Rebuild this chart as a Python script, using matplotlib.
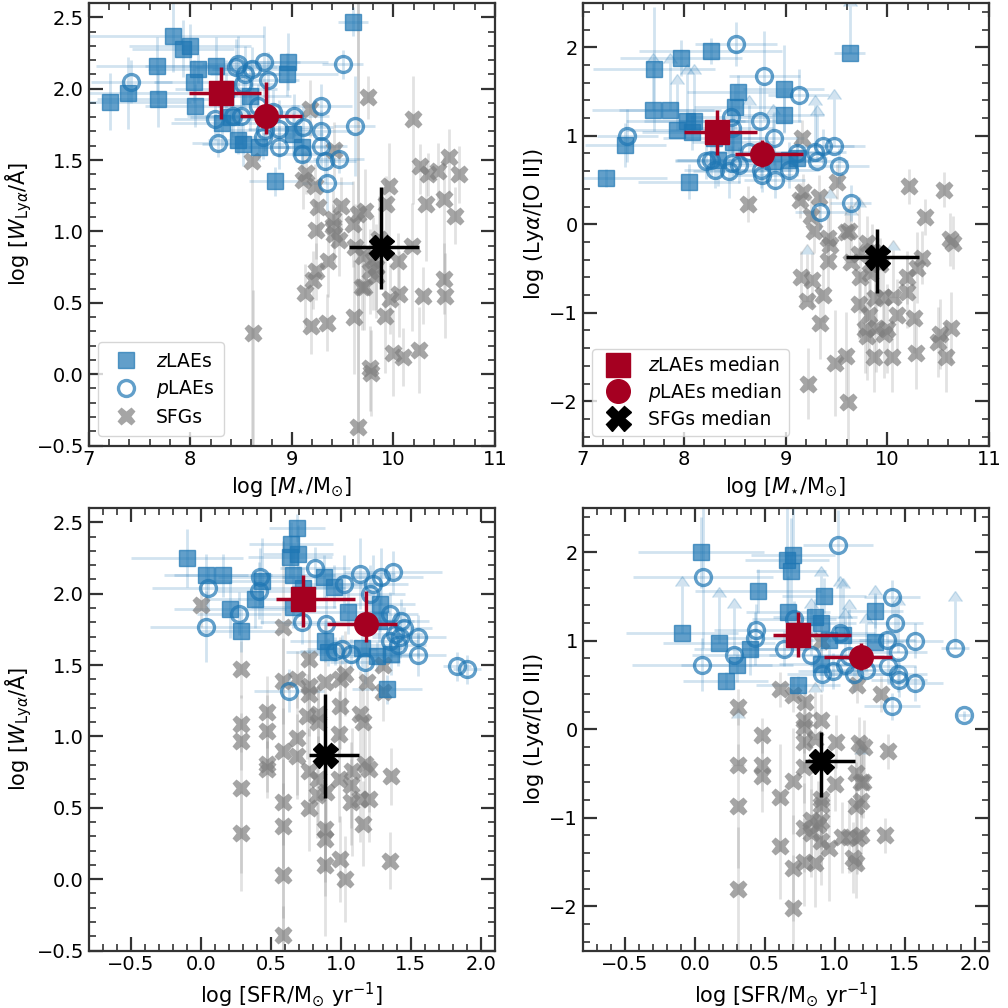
import matplotlib
matplotlib.use("Agg")
import matplotlib.pyplot as plt
from matplotlib.ticker import MultipleLocator
from matplotlib.lines import Line2D

# ---------------- DATA ----------------
# Top-left: log W_Lya vs log M*
tl_z_x = [9.60, 7.83, 7.93, 8.00, 7.67, 8.08, 8.25, 8.96, 8.95, 8.04, 7.21, 7.39, 7.68, 8.05, 8.59, 8.31, 8.47, 8.52, 8.68, 9.01, 9.10, 8.83, 8.40, 8.35]
tl_z_y = [2.47, 2.37, 2.28, 2.30, 2.16, 2.14, 2.16, 2.19, 2.10, 2.05, 1.91, 1.97, 1.93, 1.88, 1.95, 1.76, 1.64, 1.61, 1.59, 1.68, 1.59, 1.35, 1.80, 2.00]
tl_z_xe = [0.15, 0.90, 0.50, 0.60, 0.60, 0.50, 0.70, 0.40, 0.50, 0.40, 0.80, 0.70, 0.60, 0.50, 0.40, 0.50, 0.30, 0.40, 0.30, 0.30, 0.30, 0.25, 0.40, 0.50]
tl_z_ye = [0.10, 0.25, 0.20, 0.15, 0.20, 0.10, 0.20, 0.20, 0.15, 0.15, 0.20, 0.25, 0.20, 0.15, 0.25, 0.20, 0.10, 0.15, 0.10, 0.15, 0.10, 0.10, 0.15, 0.20]

tl_p_x = [7.42, 8.45, 8.73, 8.77, 8.61, 8.54, 8.52, 9.50, 8.24, 8.42, 8.50, 8.67, 8.81, 9.02, 9.29, 9.11, 8.87, 8.74, 8.72, 9.29, 9.62, 8.27, 8.87, 9.29, 9.10, 9.33, 9.46, 9.35, 8.47]
tl_p_y = [2.05, 2.15, 2.19, 2.06, 2.14, 2.10, 2.03, 2.17, 1.79, 1.81, 1.81, 1.88, 1.84, 1.81, 1.88, 1.73, 1.72, 1.71, 1.66, 1.70, 1.74, 1.62, 1.59, 1.60, 1.54, 1.49, 1.51, 1.34, 2.17]
tl_p_xe = [0.40, 0.40, 0.35, 0.30, 0.40, 0.35, 0.30, 0.20, 0.40, 0.45, 0.35, 0.40, 0.30, 0.35, 0.30, 0.30, 0.30, 0.35, 0.30, 0.30, 0.20, 0.25, 0.30, 0.25, 0.30, 0.30, 0.25, 0.25, 0.35]
tl_p_ye = [0.15, 0.20, 0.25, 0.20, 0.15, 0.20, 0.15, 0.10, 0.15, 0.15, 0.20, 0.15, 0.15, 0.15, 0.15, 0.15, 0.20, 0.15, 0.15, 0.15, 0.35, 0.10, 0.15, 0.15, 0.10, 0.15, 0.10, 0.20, 0.20]

tl_s_x = [9.75, 10.19, 8.61, 9.18, 9.42, 9.14, 9.11, 9.23, 10.26, 10.34, 10.44, 10.55, 10.65, 9.96, 9.93, 10.32, 10.50, 10.61, 9.26, 9.48, 9.65, 9.72, 9.41, 9.41, 9.24, 9.42, 9.46, 9.60, 9.62, 9.70, 9.80, 9.83, 9.83, 10.05, 10.18, 9.36, 9.24, 9.21, 9.13, 9.69, 9.71, 9.97, 10.06, 10.29, 10.50, 10.51, 9.92, 9.61, 9.35, 9.19, 8.62, 10.00, 10.09, 10.25, 9.77, 9.78, 9.65, 9.77, 9.86]
tl_s_y = [1.94, 1.79, 1.49, 1.86, 1.57, 1.41, 1.36, 1.32, 1.46, 1.40, 1.42, 1.52, 1.40, 1.32, 1.19, 1.19, 1.23, 1.11, 1.17, 1.18, 1.12, 1.14, 1.09, 1.04, 1.01, 0.98, 0.94, 1.05, 0.89, 0.83, 0.80, 0.75, 0.69, 0.79, 0.90, 0.79, 0.72, 0.66, 0.57, 0.61, 0.61, 0.53, 0.56, 0.55, 0.67, 0.55, 0.41, 0.40, 0.36, 0.34, 0.29, 0.15, 0.12, 0.17, 0.04, 0.01, -0.37, 0.72, 0.95]
tl_s_lo = [0.15, 0.60, 2.00, 0.20, 0.20, 0.15, 0.20, 0.15, 0.20, 0.15, 0.20, 0.25, 0.20, 0.50, 0.20, 0.40, 0.60, 0.20, 0.20, 0.25, 1.60, 0.30, 0.20, 0.15, 0.20, 0.20, 0.25, 0.30, 0.30, 0.25, 0.35, 0.30, 0.30, 0.20, 0.60, 0.25, 0.20, 0.20, 0.25, 0.30, 0.30, 0.25, 0.30, 0.20, 0.25, 0.30, 0.40, 0.40, 0.20, 0.20, 0.80, 0.30, 0.20, 0.30, 0.30, 0.30, 0.20, 0.30, 0.30]
tl_s_hi = [0.15, 0.30, 0.05, 0.20, 0.20, 0.15, 0.20, 0.15, 0.15, 0.15, 0.20, 0.20, 0.20, 0.30, 0.20, 0.30, 0.30, 0.20, 0.20, 0.20, 1.50, 0.30, 0.20, 0.15, 0.20, 0.20, 0.25, 0.30, 0.30, 0.25, 0.30, 0.30, 0.30, 0.20, 0.30, 0.25, 0.20, 0.20, 0.20, 0.30, 0.30, 0.25, 0.30, 0.20, 0.25, 0.30, 0.40, 0.40, 0.20, 0.20, 0.30, 0.30, 0.20, 0.30, 0.30, 0.30, 3.00, 0.30, 0.30]

# Top-right: log(Lya/[OII]) vs log M*
tr_z_x = [9.63, 8.26, 7.97, 7.70, 8.53, 8.98, 8.50, 7.69, 7.86, 8.98, 8.03, 8.10, 7.93, 8.08, 7.42, 7.23, 8.05, 8.29, 8.48, 8.33, 8.87, 9.03, 9.11]
tr_z_y = [1.94, 1.96, 1.88, 1.75, 1.49, 1.53, 1.33, 1.29, 1.29, 1.24, 1.17, 1.17, 1.06, 1.04, 0.90, 0.52, 0.48, 0.97, 0.93, 0.73, 0.72, 0.73, 0.75]
tr_z_xe = [0.15, 0.70, 0.60, 0.60, 0.50, 0.40, 0.40, 0.60, 0.50, 0.40, 0.60, 0.50, 0.50, 0.50, 0.40, 0.60, 0.50, 0.50, 0.40, 0.40, 0.40, 0.30, 0.30]
tr_z_ye = [0.10, 0.15, 0.20, 0.70, 0.20, 0.50, 0.25, 0.50, 0.20, 0.20, 0.20, 0.20, 0.20, 0.20, 0.25, 0.10, 0.20, 0.20, 0.30, 0.30, 0.20, 0.20, 0.20]
tr_z_lolim = [0, 7, 8, 10, 11, 12, 20]

tr_p_x = [8.51, 8.79, 9.13, 7.44, 8.46, 8.47, 8.75, 8.88, 8.21, 8.26, 8.30, 8.44, 8.47, 8.54, 8.64, 8.76, 8.77, 8.89, 9.03, 9.11, 9.29, 9.31, 9.37, 9.48, 9.52, 9.64, 9.34]
tr_p_y = [2.04, 1.68, 1.46, 1.00, 1.21, 1.09, 1.17, 0.97, 0.71, 0.73, 0.61, 0.60, 0.69, 0.67, 0.82, 0.61, 0.56, 0.50, 0.61, 0.80, 0.82, 0.71, 0.88, 0.89, 0.66, 0.24, 0.14]
tr_p_xe = [0.40, 0.35, 0.30, 0.30, 0.40, 0.40, 0.40, 0.30, 0.30, 0.35, 0.30, 0.35, 0.30, 0.30, 0.35, 0.30, 0.30, 0.30, 0.30, 0.30, 0.30, 0.30, 0.30, 0.30, 0.30, 0.20, 0.25]
tr_p_ye = [0.25, 0.50, 0.30, 0.30, 0.20, 0.30, 0.40, 0.30, 0.20, 0.20, 0.20, 0.30, 0.20, 0.20, 0.20, 0.20, 0.20, 0.20, 0.20, 0.20, 0.20, 0.20, 0.20, 0.20, 0.20, 0.20, 0.20]
tr_p_lolim = [14, 20, 21, 23]

tr_s_x = [9.16, 8.63, 9.50, 10.21, 10.56, 10.37, 9.17, 9.14, 9.33, 9.25, 9.28, 9.42, 9.44, 9.62, 9.59, 9.42, 9.15, 9.26, 9.21, 9.37, 9.34, 9.64, 9.72, 9.73, 9.80, 9.83, 9.88, 9.96, 10.06, 9.72, 9.82, 10.10, 10.19, 10.19, 10.29, 10.34, 10.62, 10.65, 10.26, 9.78, 9.80, 9.89, 9.97, 10.00, 9.87, 10.05, 10.28, 10.50, 10.52, 10.63, 10.58, 9.49, 9.59, 9.22, 9.61, 9.85, 9.93]
tr_s_y = [0.98, 0.23, 0.48, 0.43, 0.39, 0.08, 0.37, 0.27, 0.31, 0.09, -0.08, -0.15, -0.23, -0.08, -0.09, -0.41, -0.60, -0.63, -0.87, -0.80, -1.12, -0.43, -0.34, -0.60, -0.21, -0.55, -0.83, -0.82, -0.82, -0.90, -1.02, -1.02, -0.60, -0.77, -0.49, -0.38, -0.17, -0.21, -1.06, -1.18, -1.26, -1.17, -1.24, -1.18, -1.50, -1.50, -1.46, -1.33, -1.24, -1.17, -1.50, -1.57, -1.49, -1.80, -2.01, -0.30, -0.45]
tr_s_ye = [0.20, 0.20, 0.20, 0.20, 0.20, 0.20, 0.20, 0.20, 0.25, 0.20, 0.25, 0.30, 0.30, 0.30, 0.30, 0.30, 0.30, 0.30, 0.30, 0.30, 0.40, 0.30, 0.30, 0.40, 0.30, 0.40, 0.40, 0.40, 0.40, 0.40, 0.50, 0.40, 0.30, 0.40, 0.40, 0.30, 0.30, 0.30, 0.40, 0.50, 0.50, 0.50, 0.50, 0.50, 0.40, 0.40, 0.40, 0.40, 0.40, 0.40, 0.40, 0.60, 0.50, 0.40, 0.60, 0.30, 0.30]
tr_s_lolim = [12, 21, 22, 28, 18]

# Bottom-left: log W_Lya vs log SFR
bl_z_x = [0.686, 0.643, 0.693, 0.634, -0.10, 0.038, 0.159, 0.655, 0.883, 0.44, 0.954, 0.73, 0.385, 0.21, 0.287, 0.662, 1.28, 1.05, 0.89, 0.91, 1.15, 1.26, 1.36, 1.33, 1.27]
bl_z_y = [2.46, 2.35, 2.28, 2.26, 2.25, 2.13, 2.13, 2.13, 2.12, 2.09, 2.05, 2.04, 1.96, 1.89, 1.74, 1.91, 1.93, 1.87, 1.67, 1.59, 1.62, 1.56, 1.58, 1.33, 1.81]
bl_z_xe = [0.20, 0.30, 0.25, 0.30, 0.40, 0.30, 0.35, 0.30, 0.30, 0.35, 0.30, 0.30, 0.35, 0.40, 0.30, 0.30, 0.25, 0.30, 0.25, 0.30, 0.30, 0.25, 0.25, 0.25, 0.25]
bl_z_ye = [0.10, 0.15, 0.20, 0.15, 0.20, 0.15, 0.15, 0.20, 0.15, 0.30, 0.15, 0.15, 0.20, 0.20, 0.15, 0.15, 0.20, 0.15, 0.15, 0.10, 0.15, 0.10, 0.15, 0.10, 0.15]

bl_p_x = [0.052, 0.038, 0.27, 0.425, 0.413, 0.817, 1.02, 1.14, 1.23, 1.21, 1.29, 1.37, 0.72, 0.895, 1.35, 1.43, 1.45, 1.39, 1.42, 1.35, 1.41, 1.55, 1.55, 0.96, 1.01, 1.07, 1.17, 1.83, 1.90, 0.63]
bl_p_y = [2.04, 1.77, 1.86, 2.12, 2.02, 2.18, 2.07, 2.14, 2.07, 2.00, 2.12, 2.15, 1.80, 1.79, 1.86, 1.81, 1.76, 1.72, 1.70, 1.67, 1.64, 1.70, 1.57, 1.60, 1.61, 1.58, 1.52, 1.49, 1.47, 1.32]
bl_p_xe = [0.40, 0.40, 0.30, 0.30, 0.30, 0.25, 0.30, 0.25, 0.25, 0.25, 0.30, 0.35, 0.30, 0.30, 0.20, 0.20, 0.20, 0.20, 0.20, 0.20, 0.20, 0.20, 0.20, 0.25, 0.25, 0.25, 0.25, 0.10, 0.10, 0.25]
bl_p_ye = [0.15, 0.25, 0.15, 0.20, 0.20, 0.15, 0.20, 0.25, 0.20, 0.20, 0.20, 0.15, 0.15, 0.20, 0.15, 0.15, 0.15, 0.15, 0.15, 0.15, 0.15, 0.15, 0.15, 0.10, 0.10, 0.10, 0.15, 0.10, 0.10, 0.15]

bl_s_x = [0.005, 0.59, 0.29, 0.77, 0.59, 0.686, 0.77, 0.77, 0.89, 0.995, 1.03, 1.19, 1.30, 1.30, 0.995, 0.47, 0.29, 0.76, 0.84, 0.84, 1.14, 1.16, 0.29, 0.47, 0.69, 0.59, 0.69, 0.47, 0.47, 0.77, 0.84, 0.895, 0.83, 0.99, 0.99, 1.08, 1.07, 1.07, 1.14, 1.20, 1.17, 1.20, 1.36, 0.59, 0.59, 0.776, 1.16, 0.29, 0.29, 0.89, 0.89, 0.89, 0.995, 1.03, 1.35, 0.59, 0.59]
bl_s_y = [1.92, 1.77, 1.47, 1.54, 1.39, 1.40, 1.35, 1.30, 1.38, 1.40, 1.44, 1.38, 1.50, 1.31, 1.21, 1.17, 1.09, 1.14, 1.16, 1.10, 1.16, 1.10, 0.965, 1.04, 0.99, 0.90, 0.86, 0.81, 0.77, 0.76, 0.70, 0.61, 0.59, 1.02, 0.70, 0.76, 0.66, 0.54, 0.56, 0.56, 0.81, 0.77, 0.72, 0.54, 0.375, 0.50, 0.39, 0.64, 0.32, 0.35, 0.28, 0.10, 0.14, 0.00, 0.13, 0.03, -0.39]
bl_s_lo = [0.15, 2.40, 0.20, 0.25, 0.30, 0.20, 0.25, 0.30, 1.50, 0.35, 0.30, 0.30, 0.20, 0.20, 0.30, 0.25, 0.20, 0.30, 0.25, 0.25, 0.30, 0.30, 0.20, 0.25, 0.40, 0.30, 0.30, 0.20, 0.20, 0.30, 0.30, 0.30, 0.30, 0.30, 0.30, 0.60, 0.30, 0.30, 0.30, 0.30, 0.30, 0.30, 0.20, 0.30, 0.30, 0.30, 0.30, 0.60, 0.40, 0.30, 0.30, 0.50, 0.30, 0.30, 0.20, 0.30, 0.20]
bl_s_hi = [0.15, 0.60, 0.20, 0.25, 0.30, 0.20, 0.25, 0.30, 0.40, 0.30, 0.30, 0.30, 0.20, 0.20, 0.30, 0.25, 0.20, 0.30, 0.25, 0.25, 0.30, 0.30, 0.20, 0.25, 0.30, 0.30, 0.30, 0.20, 0.20, 0.30, 0.30, 0.30, 0.30, 0.30, 0.30, 0.30, 0.30, 0.30, 0.30, 0.30, 0.30, 0.30, 0.20, 0.30, 0.30, 0.30, 0.30, 0.30, 0.30, 0.30, 0.30, 0.30, 0.30, 0.30, 0.20, 0.30, 0.20]

# Bottom-right: log(Lya/[OII]) vs log SFR
br_z_x = [0.048, 0.70, 0.66, 0.69, 0.455, 0.92, 1.29, 0.665, 0.86, 0.905, 1.06, 0.96, -0.093, 0.175, 0.395, 0.30, 0.22, 0.74, 1.29, 0.905]
br_z_y = [2.00, 1.97, 1.91, 1.79, 1.56, 1.51, 1.34, 1.33, 1.27, 1.20, 1.07, 1.01, 1.09, 0.97, 0.91, 0.73, 0.55, 0.50, 0.99, 0.74]
br_z_xe = [0.45, 0.30, 0.30, 0.25, 0.45, 0.30, 0.20, 0.30, 0.30, 0.25, 0.30, 0.30, 0.40, 0.40, 0.40, 0.40, 0.30, 0.30, 0.20, 0.30]
br_z_ye = [0.40, 0.60, 0.60, 0.60, 0.25, 0.20, 0.20, 0.40, 0.20, 0.20, 0.20, 0.20, 0.20, 0.20, 0.30, 0.20, 0.10, 0.10, 0.20, 0.20]
br_z_lolim = [1, 9, 10, 12, 13, 18]

br_p_x = [1.02, 0.06, 1.41, 1.43, 0.44, 0.43, 0.71, 1.04, 0.64, 0.28, 0.05, 0.83, 1.57, 1.455, 1.37, 1.855, 0.91, 0.99, 1.10, 1.07, 1.14, 1.22, 1.38, 1.455, 1.46, 1.57, 1.41, 1.92]
br_p_y = [2.08, 1.72, 1.49, 1.20, 1.12, 1.03, 1.25, 1.09, 0.91, 0.84, 0.73, 0.84, 1.00, 0.875, 1.01, 0.92, 0.63, 0.66, 0.83, 0.73, 0.62, 0.67, 0.72, 0.62, 0.56, 0.52, 0.26, 0.16]
br_p_xe = [0.25, 0.50, 0.20, 0.20, 0.30, 0.30, 0.30, 0.25, 0.30, 0.30, 0.50, 0.30, 0.20, 0.20, 0.20, 0.10, 0.25, 0.25, 0.25, 0.25, 0.25, 0.25, 0.20, 0.20, 0.20, 0.20, 0.20, 0.05]
br_p_ye = [0.40, 0.80, 0.20, 0.20, 0.30, 0.30, 0.20, 0.20, 0.20, 0.20, 0.30, 0.20, 0.20, 0.20, 0.20, 0.20, 0.20, 0.20, 0.20, 0.20, 0.20, 0.20, 0.20, 0.20, 0.20, 0.20, 0.15, 0.05]
br_p_lolim = [7, 9, 11, 13, 15, 18, 19, 21]

br_s_x = [0.61, 0.70, 0.785, 1.16, 1.33, 0.31, 0.78, 0.905, 0.905, 0.48, 0.78, 0.78, 0.86, 1.01, 1.175, 1.21, 1.38, 0.31, 0.48, 0.48, 0.78, 0.70, 0.61, 1.005, 1.15, 1.19, 1.20, 0.905, 0.905, 1.15, 1.19, 0.31, 0.83, 0.905, 0.88, 0.78, 0.83, 0.905, 0.96, 0.61, 1.05, 1.10, 1.16, 1.19, 1.36, 0.78, 0.86, 1.13, 1.15, 0.70, 0.31, 0.705]
br_s_y = [0.45, 0.39, 0.31, 0.50, 0.40, 0.25, 0.11, 0.10, 1.00, -0.07, 0.03, -0.14, -0.11, -0.14, -0.16, -0.20, -0.25, -0.40, -0.40, -0.53, -0.43, -0.58, -0.77, -0.62, -0.49, -0.59, -0.60, -0.79, -0.85, -0.87, -0.81, -0.87, -1.02, -1.04, -1.08, -1.11, -1.17, -1.26, -1.34, -1.32, -1.22, -1.22, -1.23, -1.19, -1.20, -1.50, -1.51, -1.45, -1.51, -1.57, -1.80, -2.02]
br_s_ye = [0.20, 0.20, 0.20, 0.20, 0.20, 0.20, 0.30, 0.30, 0.20, 0.20, 0.30, 0.30, 0.30, 0.30, 0.30, 0.30, 0.20, 0.30, 0.30, 0.40, 0.40, 0.60, 0.60, 0.30, 0.40, 0.40, 0.40, 0.50, 0.50, 0.50, 0.40, 0.70, 0.50, 0.50, 0.50, 0.50, 0.50, 0.50, 0.60, 0.60, 0.40, 0.40, 0.40, 0.40, 0.20, 0.50, 0.50, 0.40, 0.40, 0.60, 0.70, 0.60]
br_s_lolim = [12, 17, 30]

# Medians: (x, x_lo, x_hi, y, y_lo, y_hi)
tl_med = {"z": (8.30, 0.31, 0.40, 1.97, 0.18, 0.18),
          "p": (8.75, 0.26, 0.35, 1.81, 0.13, 0.24),
          "s": (9.88, 0.32, 0.37, 0.89, 0.29, 0.42)}
tr_med = {"z": (8.32, 0.32, 0.40, 1.04, 0.26, 0.25),
          "p": (8.77, 0.27, 0.40, 0.79, 0.14, 0.16),
          "s": (9.90, 0.31, 0.41, -0.37, 0.41, 0.32)}
bl_med = {"z": (0.73, 0.19, 0.37, 1.96, 0.19, 0.17),
          "p": (1.18, 0.28, 0.22, 1.79, 0.13, 0.23),
          "s": (0.89, 0.12, 0.24, 0.87, 0.30, 0.43)}
br_med = {"z": (0.74, 0.18, 0.375, 1.06, 0.24, 0.27),
          "p": (1.19, 0.27, 0.22, 0.82, 0.15, 0.16),
          "s": (0.905, 0.12, 0.24, -0.36, 0.41, 0.33)}

LOLIM_LEN = 0.53

# ---------------- STYLE ----------------
BLUE = "#1f77b4"
GREY = "#7f7f7f"
MED = "#a50021"
SPINE = "#333333"

fig = plt.figure(figsize=(10.08, 10.08), dpi=100)
W = 0.403
axes = {
    "tl": fig.add_axes([0.088, 0.558, W, 0.439]),
    "tr": fig.add_axes([0.578, 0.558, W, 0.439]),
    "bl": fig.add_axes([0.088, 0.057, W, 0.439]),
    "br": fig.add_axes([0.578, 0.057, W, 0.439]),
}


def sel(lst, idx, keep):
    return [v for i, v in enumerate(lst) if (i in idx) == keep]


def draw_lae(ax, x, y, xe, ye, lolim, kind):
    if kind == "z":
        mk = dict(marker="s", ms=11, mfc=BLUE, mec=BLUE, alpha=0.7, mew=1.0)
    else:
        mk = dict(marker="o", ms=11.5, mfc="none", mec=BLUE, alpha=0.7, mew=2.4)
    idx = set(lolim)
    xn, yn, xen, yen = (sel(v, idx, False) for v in (x, y, xe, ye))
    ax.errorbar(xn, yn, xerr=xen, yerr=yen, fmt="none", ecolor=BLUE,
                alpha=0.2, elinewidth=2, zorder=2)
    if idx:
        xl, yl, xel = (sel(v, idx, True) for v in (x, y, xe))
        ax.errorbar(xl, yl, xerr=xel, fmt="none", ecolor=BLUE, alpha=0.2,
                    elinewidth=2, zorder=2)
        ax.errorbar(xl, yl, yerr=[LOLIM_LEN] * len(xl), lolims=True,
                    fmt="none", ecolor=BLUE, alpha=0.2, elinewidth=2,
                    capsize=5, zorder=2)
    ax.plot(x, y, ls="none", zorder=4, **mk)


def draw_sfg(ax, x, y, ylo, yhi, lolim):
    idx = set(lolim)
    xn, yln, yhn = (sel(v, idx, False) for v in (x, ylo, yhi))
    yn = sel(y, idx, False)
    ax.errorbar(xn, yn, yerr=[yln, yhn], fmt="none", ecolor=GREY, alpha=0.22,
                elinewidth=2, zorder=1)
    if idx:
        xl, yl = sel(x, idx, True), sel(y, idx, True)
        ax.errorbar(xl, yl, yerr=[LOLIM_LEN] * len(xl), lolims=True,
                    fmt="none", ecolor=GREY, alpha=0.22, elinewidth=2,
                    capsize=5, zorder=1)
    ax.plot(x, y, ls="none", marker="X", ms=13.5, mfc=GREY, mec="none",
            alpha=0.7, zorder=3)


def draw_med(ax, med):
    for key, (mk, col, ms) in {"z": ("s", MED, 17), "p": ("o", MED, 17),
                               "s": ("X", "black", 18)}.items():
        x, xl, xh, y, yl, yh = med[key]
        ax.errorbar([x], [y], xerr=[[xl], [xh]], yerr=[[yl], [yh]],
                    fmt=mk, color=col, ms=ms, mec=col, elinewidth=2.5,
                    capsize=0, zorder=10)


ax = axes["tl"]
draw_sfg(ax, tl_s_x, tl_s_y, tl_s_lo, tl_s_hi, [])
draw_lae(ax, tl_z_x, tl_z_y, tl_z_xe, tl_z_ye, [], "z")
draw_lae(ax, tl_p_x, tl_p_y, tl_p_xe, tl_p_ye, [], "p")
draw_med(ax, tl_med)

ax = axes["tr"]
draw_sfg(ax, tr_s_x, tr_s_y, tr_s_ye, tr_s_ye, tr_s_lolim)
draw_lae(ax, tr_z_x, tr_z_y, tr_z_xe, tr_z_ye, tr_z_lolim, "z")
draw_lae(ax, tr_p_x, tr_p_y, tr_p_xe, tr_p_ye, tr_p_lolim, "p")
draw_med(ax, tr_med)

ax = axes["bl"]
draw_sfg(ax, bl_s_x, bl_s_y, bl_s_lo, bl_s_hi, [])
draw_lae(ax, bl_z_x, bl_z_y, bl_z_xe, bl_z_ye, [], "z")
draw_lae(ax, bl_p_x, bl_p_y, bl_p_xe, bl_p_ye, [], "p")
draw_med(ax, bl_med)

ax = axes["br"]
draw_sfg(ax, br_s_x, br_s_y, br_s_ye, br_s_ye, br_s_lolim)
draw_lae(ax, br_z_x, br_z_y, br_z_xe, br_z_ye, br_z_lolim, "z")
draw_lae(ax, br_p_x, br_p_y, br_p_xe, br_p_ye, br_p_lolim, "p")
draw_med(ax, br_med)

# axes limits, ticks, labels
lab_W = r"log [$W_{\mathrm{Ly}\alpha}$/Å]"
lab_R = r"log (Ly$\alpha$/[O II])"
lab_M = r"log [$M_{\star}$/M$_{\odot}$]"
lab_S = r"log [SFR/M$_{\odot}$ yr$^{-1}$]"

cfg = {
    "tl": ((7, 11), (-0.5, 2.6), 1, 0.2, 0.5, 0.1, lab_M, lab_W),
    "tr": ((7, 11), (-2.5, 2.5), 1, 0.2, 1, 0.2, lab_M, lab_R),
    "bl": ((-0.8, 2.1), (-0.5, 2.6), 0.5, 0.1, 0.5, 0.1, lab_S, lab_W),
    "br": ((-0.8, 2.1), (-2.5, 2.5), 0.5, 0.1, 1, 0.2, lab_S, lab_R),
}
for k, (xl, yl, xM, xm, yM, ym, xlab, ylab) in cfg.items():
    ax = axes[k]
    ax.set_xlim(*xl)
    ax.set_ylim(*yl)
    ax.xaxis.set_major_locator(MultipleLocator(xM))
    ax.xaxis.set_minor_locator(MultipleLocator(xm))
    ax.yaxis.set_major_locator(MultipleLocator(yM))
    ax.yaxis.set_minor_locator(MultipleLocator(ym))
    ax.tick_params(which="both", direction="in", top=True, right=True,
                   colors=SPINE, labelcolor="black")
    ax.tick_params(which="major", length=10, width=1.6, labelsize=14)
    ax.tick_params(which="minor", length=5, width=1.2)
    for s in ax.spines.values():
        s.set_color(SPINE)
        s.set_linewidth(1.6)
    ax.set_xlabel(xlab, fontsize=15, labelpad=4)
    ax.set_ylabel(ylab, fontsize=15, labelpad=2)

# legends
h1 = [
    Line2D([], [], ls="none", marker="s", ms=11, mfc=BLUE, mec=BLUE, alpha=0.7),
    Line2D([], [], ls="none", marker="o", ms=11.5, mfc="none", mec=BLUE, mew=2.4, alpha=0.7),
    Line2D([], [], ls="none", marker="X", ms=13.5, mfc=GREY, mec="none", alpha=0.7),
]
axes["tl"].legend(h1, [r"$z$LAEs", r"$p$LAEs", "SFGs"], loc="lower left",
                  fontsize=13.5, borderpad=0.5, handletextpad=0.6,
                  labelspacing=0.4, bbox_to_anchor=(0.0, 0.0))
h2 = [
    Line2D([], [], ls="none", marker="s", ms=17, color=MED),
    Line2D([], [], ls="none", marker="o", ms=17, color=MED),
    Line2D([], [], ls="none", marker="X", ms=18, color="black"),
]
axes["tr"].legend(h2, [r"$z$LAEs median", r"$p$LAEs median", "SFGs median"],
                  loc="lower left", fontsize=13.5, borderpad=0.4,
                  handletextpad=0.6, labelspacing=0.3,
                  bbox_to_anchor=(0.0, 0.0))

fig.savefig("out.png", dpi=100)
